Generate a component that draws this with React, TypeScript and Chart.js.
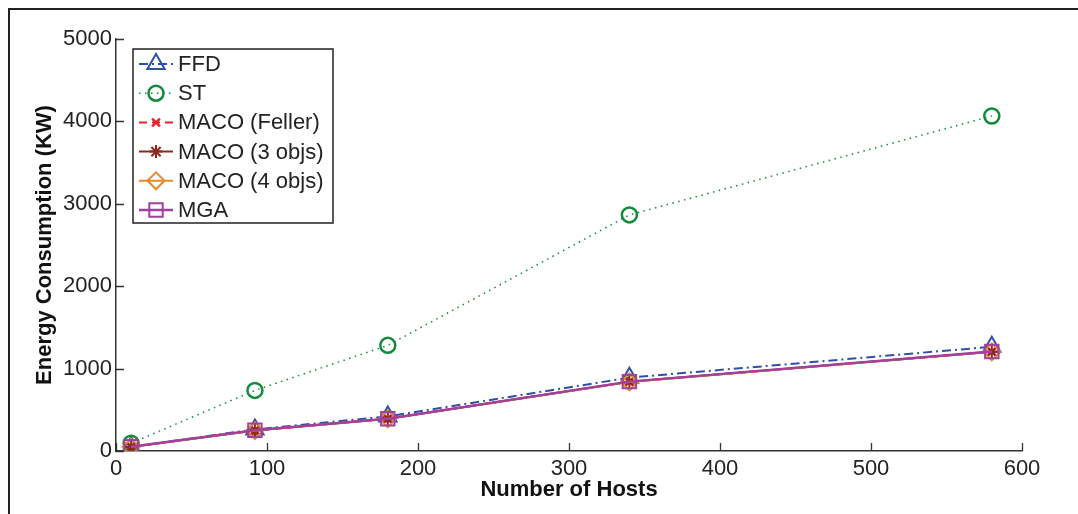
import { useEffect, useRef } from 'react';
import { Chart, registerables } from 'chart.js';
import { drawPoint } from 'chart.js/helpers';

Chart.register(...registerables);

const hosts = [10, 92, 180, 340, 580];
const ffdValues = [50, 262, 420, 890, 1265];
const stValues = [95, 735, 1282, 2865, 4065];
const macoFellerValues = [50, 250, 392, 840, 1205];
const maco3Values = [50, 250, 392, 840, 1205];
const maco4Values = [48, 248, 390, 838, 1203];
const mgaValues = [52, 252, 392, 842, 1207];

const seriesNames = ['FFD', 'ST', 'MACO (Feller)', 'MACO (3 objs)', 'MACO (4 objs)', 'MGA'];
const xTickValues = [0, 100, 200, 300, 400, 500, 600];
const yTickValues = [0, 1000, 2000, 3000, 4000, 5000];

const FONT = "'Liberation Sans', Arial, Helvetica, sans-serif";

const styles = [
  { color: '#2f4fa8', width: 2, dash: [9, 4, 2, 4], point: 'triangle', radius: 10, pw: 2 },
  { color: '#138a3c', width: 1.5, dash: [1.5, 4.5], point: 'circle', radius: 7.5, pw: 2.5 },
  { color: '#e8232b', width: 2, dash: [8, 5], point: 'crossRot', radius: 5.5, pw: 2.5 },
  { color: '#8b2a1c', width: 2, dash: [], point: 'star', radius: 6.5, pw: 2 },
  { color: '#e8892c', width: 2, dash: [], point: 'rectRot', radius: 8.5, pw: 2 },
  { color: '#a3409d', width: 2.5, dash: [], point: 'rect', radius: 9.5, pw: 2 },
];

const seriesValues = [ffdValues, stValues, macoFellerValues, maco3Values, maco4Values, mgaValues];

const decorPlugin = {
  id: 'decor',
  afterDatasetsDraw(chart: any) {
    const ctx = chart.ctx;
    const xs = chart.scales.x;
    const ys = chart.scales.y;
    const { left, bottom } = chart.chartArea;
    ctx.save();
    ctx.strokeStyle = '#333';
    ctx.lineWidth = 1.3;
    ctx.setLineDash([]);
    ctx.beginPath();
    for (const v of xTickValues) {
      const px = Math.round(xs.getPixelForValue(v)) + 0.5;
      ctx.moveTo(px, bottom);
      ctx.lineTo(px, bottom - 8);
    }
    for (const v of yTickValues) {
      const py = Math.round(ys.getPixelForValue(v)) + 0.5;
      ctx.moveTo(left, py);
      ctx.lineTo(left + 8, py);
    }
    ctx.stroke();
    ctx.restore();
  },
  afterDraw(chart: any) {
    const ctx = chart.ctx;
    ctx.save();
    // figure frame
    ctx.strokeStyle = '#222';
    ctx.lineWidth = 2;
    ctx.beginPath();
    ctx.moveTo(9, 514);
    ctx.lineTo(9, 9);
    ctx.lineTo(1078, 9);
    ctx.stroke();

    // legend
    const bx = 133, by = 49, bw = 200, bh = 174;
    ctx.fillStyle = '#fff';
    ctx.fillRect(bx, by, bw, bh);
    ctx.strokeStyle = '#222';
    ctx.lineWidth = 1.5;
    ctx.strokeRect(bx, by, bw, bh);
    ctx.font = `22px ${FONT}`;
    ctx.textBaseline = 'middle';
    ctx.textAlign = 'left';
    seriesNames.forEach((name, i) => {
      const s = styles[i];
      const y = 64 + i * 29.2;
      ctx.strokeStyle = s.color;
      ctx.lineWidth = s.width;
      ctx.setLineDash(s.dash);
      ctx.beginPath();
      ctx.moveTo(139, y);
      ctx.lineTo(173, y);
      ctx.stroke();
      ctx.setLineDash([]);
      ctx.lineWidth = s.pw;
      ctx.fillStyle = 'rgba(0,0,0,0)';
      drawPoint(ctx, { pointStyle: s.point, radius: s.radius, rotation: 0, borderWidth: s.pw } as any, 156, y);
      ctx.fillStyle = '#222';
      ctx.fillText(name, 178, y + 1);
    });
    ctx.restore();
  },
};

export default function App() {
  const ref = useRef<HTMLCanvasElement>(null);
  useEffect(() => {
    if (!ref.current) return;
    const datasets = seriesNames.map((name, i) => {
      const s = styles[i];
      return {
        label: name,
        data: hosts.map((h, j) => ({ x: h, y: seriesValues[i][j] })),
        borderColor: s.color,
        borderWidth: s.width,
        borderDash: s.dash,
        pointStyle: s.point,
        pointRadius: s.radius,
        pointBorderWidth: s.pw,
        pointBorderColor: s.color,
        pointBackgroundColor: 'rgba(0,0,0,0)',
        fill: false,
        tension: 0,
        order: 6 - i,
      };
    });
    const chart = new Chart(ref.current, {
      type: 'line',
      data: { datasets: datasets as any },
      options: {
        animation: false,
        responsive: false,
        devicePixelRatio: 1,
        layout: { padding: { left: 0, top: 39, right: 56, bottom: 0 } },
        plugins: { legend: { display: false }, tooltip: { enabled: false } },
        scales: {
          x: {
            type: 'linear',
            min: 0,
            max: 600,
            afterFit: (scale: any) => { scale.height = 63; },
            afterBuildTicks: (scale: any) => { scale.ticks = xTickValues.map((v) => ({ value: v })); },
            grid: { drawOnChartArea: false, drawTicks: false },
            border: { display: true, color: '#333', width: 1.5 },
            ticks: { padding: 5, color: '#222', font: { family: FONT, size: 22 }, callback: (v: any) => String(v) },
            title: {
              display: true,
              text: 'Number of Hosts',
              color: '#111',
              font: { family: FONT, size: 22, weight: 'bold' },
              padding: { top: 0, bottom: 11 },
            },
          },
          y: {
            type: 'linear',
            min: 0,
            max: 5000,
            afterFit: (scale: any) => { scale.width = 116; },
            afterBuildTicks: (scale: any) => { scale.ticks = yTickValues.map((v) => ({ value: v })); },
            grid: { drawOnChartArea: false, drawTicks: false },
            border: { display: true, color: '#333', width: 1.5 },
            ticks: { padding: 4, color: '#222', font: { family: FONT, size: 22 }, callback: (v: any) => String(v) },
            title: {
              display: true,
              text: 'Energy Consumption (KW)',
              color: '#111',
              font: { family: FONT, size: 22, weight: 'bold' },
              padding: { top: 32, bottom: 0 },
            },
          },
        },
      } as any,
      plugins: [decorPlugin],
    });
    return () => chart.destroy();
  }, []);
  return (
    <div style={{ position: 'fixed', left: 0, top: 0, width: 1078, height: 514, background: '#fff' }}>
      <canvas ref={ref} width={1078} height={514} style={{ width: 1078, height: 514 }} />
    </div>
  );
}
